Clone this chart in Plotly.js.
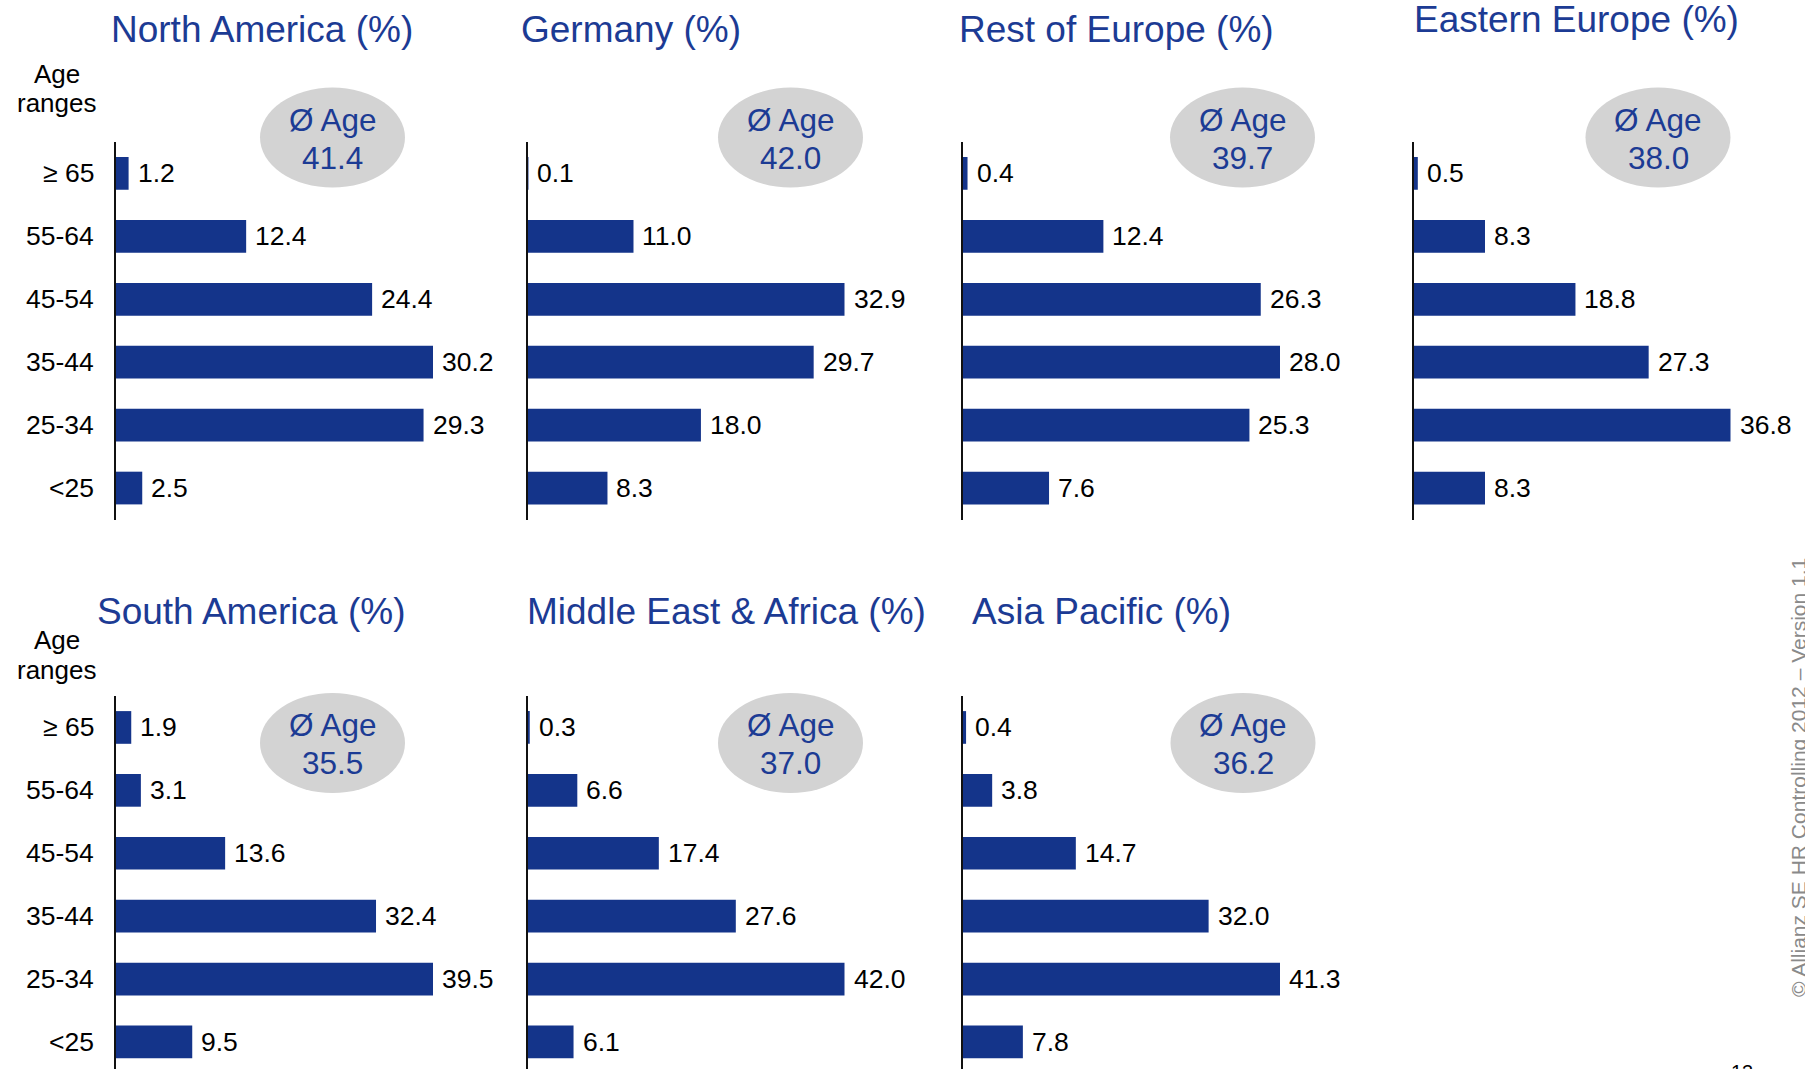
<!DOCTYPE html>
<html>
<head>
<meta charset="utf-8">
<script src="https://cdn.plot.ly/plotly-3.0.1.min.js"></script>
<style>
  html, body { margin: 0; padding: 0; background: #ffffff; }
  #chart { width: 1805px; height: 1069px; }
</style>
</head>
<body>
<div id="chart"></div>
<script>
// ---------------- DATA ----------------
const categories = ['≥ 65', '55-64', '45-54', '35-44', '25-34', '<25'];
const regionTitles = ['North America (%)', 'Germany (%)', 'Rest of Europe (%)', 'Eastern Europe (%)',
                      'South America (%)', 'Middle East & Africa (%)', 'Asia Pacific (%)'];
const northAmerica     = [1.2, 12.4, 24.4, 30.2, 29.3, 2.5];
const germany          = [0.1, 11.0, 32.9, 29.7, 18.0, 8.3];
const restOfEurope     = [0.4, 12.4, 26.3, 28.0, 25.3, 7.6];
const easternEurope    = [0.5, 8.3, 18.8, 27.3, 36.8, 8.3];
const southAmerica     = [1.9, 3.1, 13.6, 32.4, 39.5, 9.5];
const middleEastAfrica = [0.3, 6.6, 17.4, 27.6, 42.0, 6.1];
const asiaPacific      = [0.4, 3.8, 14.7, 32.0, 41.3, 7.8];
const averageAge       = [41.4, 42.0, 39.7, 38.0, 35.5, 37.0, 36.2];
const ageRangesLines   = ['Age', 'ranges'];
const avgLabel         = 'Ø Age';
const copyrightText    = '© Allianz SE HR Controlling 2012 – Version 1.1';
const pageNumber       = '13';

const seriesList = [northAmerica, germany, restOfEurope, easternEurope, southAmerica, middleEastAfrica, asiaPacific];

// ---------------- LAYOUT GEOMETRY (pixels) ----------------
const W = 1805, H = 1069;
const px = v => v / W;
const py = v => 1 - v / H;

const panels = [
  {axisX: 116,    row: 0, titleX: 109,   titleY: 30,   ellX: 332.5,  showTicks: true},
  {axisX: 527.5,  row: 0, titleX: 518.5, titleY: 30,   ellX: 790.5,  showTicks: false},
  {axisX: 963,    row: 0, titleX: 956.5, titleY: 30,   ellX: 1242.5, showTicks: false},
  {axisX: 1413.5, row: 0, titleX: 1412,  titleY: 19.5, ellX: 1658,   showTicks: false},
  {axisX: 116,    row: 1, titleX: 94.5,  titleY: 611,  ellX: 332.5,  showTicks: true},
  {axisX: 527.5,  row: 1, titleX: 524.5, titleY: 611,  ellX: 790.5,  showTicks: false},
  {axisX: 963,    row: 1, titleX: 969.5, titleY: 611,  ellX: 1243,   showTicks: false}
];
const rows = [
  {top: 142, bottom: 519.5, yRange: [5.5, -0.5],  ellY: 137.6, ageY: [74, 103.5]},
  {top: 696, bottom: 1069,  yRange: [5.43, -0.5], ellY: 743,   ageY: [640, 670]}
];
const maxBarPx = 317;   // longest bar in every panel has the same length
const domainPx = 380;
const tickLabelRight = 96;

const barColor = '#14348a';
const titleColor = '#1c3b94';
const fontFamily = 'Arial, "Liberation Sans", Helvetica, sans-serif';

const data = [];
const layout = {
  width: W, height: H,
  margin: {l: 0, r: 0, t: 0, b: 0},
  paper_bgcolor: '#ffffff',
  plot_bgcolor: 'rgba(0,0,0,0)',
  showlegend: false,
  font: {family: fontFamily, color: '#000000', size: 26},
  annotations: [],
  shapes: []
};

panels.forEach((p, i) => {
  const vals = seriesList[i];
  const r = rows[p.row];
  const n = i + 1;
  const xa = 'x' + (n === 1 ? '' : n);
  const ya = 'y' + (n === 1 ? '' : n);
  const xKey = 'xaxis' + (n === 1 ? '' : n);
  const yKey = 'yaxis' + (n === 1 ? '' : n);
  const maxVal = Math.max(...vals);

  data.push({
    type: 'bar', orientation: 'h',
    x: vals, y: categories,
    xaxis: xa, yaxis: ya,
    width: 0.52,
    marker: {color: barColor, line: {width: 0}},
    hoverinfo: 'skip'
  });

  layout[xKey] = {
    domain: [px(p.axisX), px(p.axisX + domainPx)],
    range: [0, maxVal * domainPx / maxBarPx],
    anchor: ya, visible: false, fixedrange: true
  };
  layout[yKey] = {
    domain: [py(r.bottom), py(r.top)],
    anchor: xa,
    type: 'category',
    categoryorder: 'array', categoryarray: categories,
    range: r.yRange,
    showline: true, linecolor: '#111111', linewidth: 2,
    showgrid: false, zeroline: false,
    ticks: '', showticklabels: false,
    fixedrange: true
  };

  // category labels (left column only)
  if (p.showTicks) {
    categories.forEach(c => {
      layout.annotations.push({
        xref: 'paper', yref: ya, x: px(tickLabelRight), y: c,
        text: c, showarrow: false,
        xanchor: 'right', yanchor: 'middle',
        font: {family: fontFamily, size: 26.5, color: '#000000'}
      });
    });
  }

  // value labels
  vals.forEach((v, k) => {
    layout.annotations.push({
      xref: xa, yref: ya, x: v, y: categories[k],
      text: v.toFixed(1), showarrow: false,
      xanchor: 'left', yanchor: 'middle', xshift: 7,
      font: {family: fontFamily, size: 26.5, color: '#000000'}
    });
  });

  // panel title
  layout.annotations.push({
    xref: 'paper', yref: 'paper', x: px(p.titleX), y: py(p.titleY),
    text: regionTitles[i], showarrow: false,
    xanchor: 'left', yanchor: 'middle',
    font: {family: fontFamily, size: 37, color: titleColor}
  });

  // average-age bubble
  const rx = 72.5, ry = 50;
  layout.shapes.push({
    type: 'circle', xref: 'paper', yref: 'paper',
    x0: px(p.ellX - rx), x1: px(p.ellX + rx),
    y0: py(r.ellY + ry), y1: py(r.ellY - ry),
    fillcolor: '#d3d3d3', line: {width: 0}, layer: 'below'
  });
  layout.annotations.push({
    xref: 'paper', yref: 'paper', x: px(p.ellX), y: py(r.ellY - 18),
    text: avgLabel, showarrow: false,
    xanchor: 'center', yanchor: 'middle',
    font: {family: fontFamily, size: 31.5, color: titleColor}
  });
  layout.annotations.push({
    xref: 'paper', yref: 'paper', x: px(p.ellX), y: py(r.ellY + 20),
    text: averageAge[i].toFixed(1), showarrow: false,
    xanchor: 'center', yanchor: 'middle',
    font: {family: fontFamily, size: 31.5, color: titleColor}
  });
});

// "Age ranges" labels
rows.forEach(r => {
  ageRangesLines.forEach((t, j) => {
    layout.annotations.push({
      xref: 'paper', yref: 'paper', x: px(57), y: py(r.ageY[j]),
      text: t, showarrow: false,
      xanchor: 'center', yanchor: 'middle',
      font: {family: fontFamily, size: 26, color: '#000000'}
    });
  });
});

// copyright (rotated) and page number
layout.annotations.push({
  xref: 'paper', yref: 'paper', x: px(1798), y: py(778),
  text: copyrightText, showarrow: false, textangle: -90,
  xanchor: 'center', yanchor: 'middle',
  font: {family: fontFamily, size: 21, color: '#8a8a8a'}
});
layout.annotations.push({
  xref: 'paper', yref: 'paper', x: px(1729), y: py(1059),
  text: pageNumber, showarrow: false,
  xanchor: 'left', yanchor: 'top',
  font: {family: fontFamily, size: 20, color: '#000000'}
});

Plotly.newPlot('chart', data, layout, {displayModeBar: false, staticPlot: true});
</script>
</body>
</html>
